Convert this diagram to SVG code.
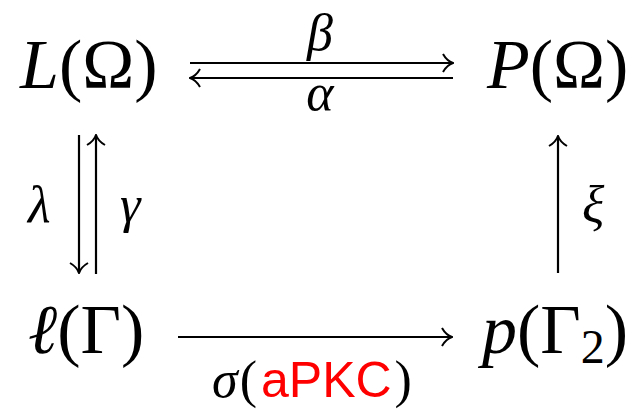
<svg xmlns="http://www.w3.org/2000/svg" width="634" height="410" viewBox="0 0 634 410">
<defs>
<marker id="hd" viewBox="0 0 12 20" refX="11" refY="10" markerWidth="12" markerHeight="20" markerUnits="userSpaceOnUse" orient="auto">
<path d="M1,1 Q5,8 11,10 Q5,12 1,19" fill="none" stroke="#000" stroke-width="2"/>
</marker>
<style>
.m{font-family:"Liberation Serif","DejaVu Serif",serif;font-size:70px;fill:#000}
.i{font-style:italic}
.l{font-family:"Liberation Serif","DejaVu Serif",serif;font-size:52px;font-style:italic;fill:#000}
.s{font-family:"Liberation Sans",Arial,sans-serif;fill:#ff0000}
.c{stroke:#000;stroke-width:2.2;fill:none}
</style>
</defs>
<rect width="634" height="410" fill="#fff"/>
<g id="L"><text class="m" x="20" y="88"><tspan class="i">L</tspan>(Ω)</text></g>
<g id="P"><text class="m" x="487" y="88"><tspan class="i">P</tspan>(Ω)</text></g>
<g id="l"><text class="m" x="28" y="353"><tspan class="i">ℓ</tspan>(Γ)</text></g>
<g id="p"><text class="m" x="482" y="353"><tspan class="i">p</tspan>(Γ<tspan font-size="48px" dy="10">2</tspan><tspan dy="-10">)</tspan></text></g>
<g id="connectors">
<line class="c" x1="190" y1="63" x2="453" y2="63" marker-end="url(#hd)"/>
<line class="c" x1="453" y1="78" x2="190" y2="78" marker-end="url(#hd)"/>
<line class="c" x1="79" y1="135" x2="79" y2="273" marker-end="url(#hd)"/>
<line class="c" x1="96" y1="274" x2="96" y2="135" marker-end="url(#hd)"/>
<line class="c" x1="558" y1="273" x2="558" y2="136" marker-end="url(#hd)"/>
<line class="c" x1="178" y1="337" x2="452" y2="337" marker-end="url(#hd)"/>
<text class="l" x="320" y="50" text-anchor="middle">β</text>
<text class="l" x="320" y="110" text-anchor="middle">α</text>
<text class="l" x="28" y="222">λ</text>
<text class="l" x="120" y="222">γ</text>
<text class="l" x="582" y="222">ξ</text>
<text x="212" y="397" font-family="Liberation Serif,serif" font-size="52px" fill="#000"><tspan font-style="italic">σ</tspan><tspan dx="2">(</tspan><tspan class="s" font-size="50px" dx="4">aPKC</tspan><tspan dx="3">)</tspan></text>
</g>
</svg>
